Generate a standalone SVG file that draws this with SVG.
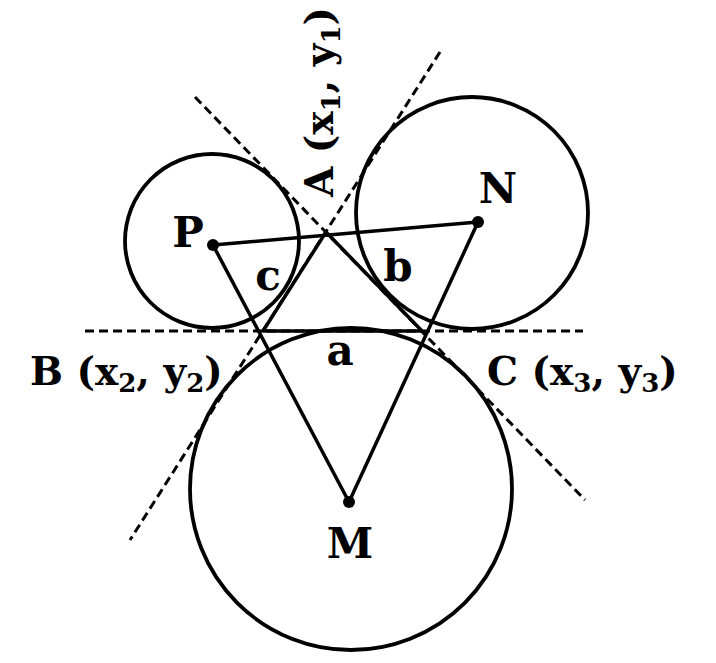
<svg xmlns="http://www.w3.org/2000/svg" width="716" height="663" viewBox="0 0 716 663">
<style>
.circ{fill:none;stroke:#000;stroke-width:3.8}
.dash{fill:none;stroke:#000;stroke-width:3;stroke-dasharray:9 5}
.solid{fill:none;stroke:#000;stroke-width:3.5;stroke-linejoin:round}
.dot{fill:#000}
.lbl{font-family:"DejaVu Serif","Liberation Serif",serif;font-size:42px;font-weight:bold;fill:#000;text-anchor:middle}
.coord{font-family:"DejaVu Serif","Liberation Serif",serif;font-size:39px;font-weight:bold;fill:#000}
.sub{font-size:26px}
</style>
<rect x="0" y="0" width="716" height="663" fill="#fff"/>
<g id="circles">
<g id="circleP"><circle class="circ" cx="212" cy="241" r="87"/></g>
<g id="circleN"><circle class="circ" cx="472" cy="213" r="116"/></g>
<g id="circleM"><circle class="circ" cx="351" cy="489" r="161"/></g>
</g>
<g id="connectors">
<line class="dash" x1="85" y1="331" x2="583" y2="331"/>
<line class="dash" x1="440" y1="52" x2="130" y2="540"/>
<line class="dash" x1="195" y1="97" x2="585" y2="500"/>
<polygon class="solid" points="326,232 263,331 422,331"/>
<polygon class="solid" points="213,245 478,222 349,502"/>
</g>
<g id="nodeP"><circle class="dot" cx="213" cy="245" r="6"/><text class="lbl" x="188" y="247">P</text></g>
<g id="nodeN"><circle class="dot" cx="478" cy="222" r="6"/><text class="lbl" x="498" y="203">N</text></g>
<g id="nodeM"><circle class="dot" cx="349" cy="502" r="6"/><text class="lbl" x="350" y="558">M</text></g>
<g id="labelA"><text class="coord" transform="translate(333,197) rotate(-90)" x="0" y="0">A (x<tspan class="sub" dy="7">1</tspan><tspan dy="-7">, y</tspan><tspan class="sub" dy="7">1</tspan><tspan dy="-7">)</tspan></text></g>
<g id="labelB"><text class="coord" x="30" y="385">B (x<tspan class="sub" dy="7">2</tspan><tspan dy="-7">, y</tspan><tspan class="sub" dy="7">2</tspan><tspan dy="-7">)</tspan></text></g>
<g id="labelC"><text class="coord" x="487" y="385">C (x<tspan class="sub" dy="7">3</tspan><tspan dy="-7">, y</tspan><tspan class="sub" dy="7">3</tspan><tspan dy="-7">)</tspan></text></g>
<g id="sides">
<text class="lbl" x="340" y="365">a</text>
<text class="lbl" x="398" y="281">b</text>
<text class="lbl" x="268" y="290">c</text>
</g>
</svg>
